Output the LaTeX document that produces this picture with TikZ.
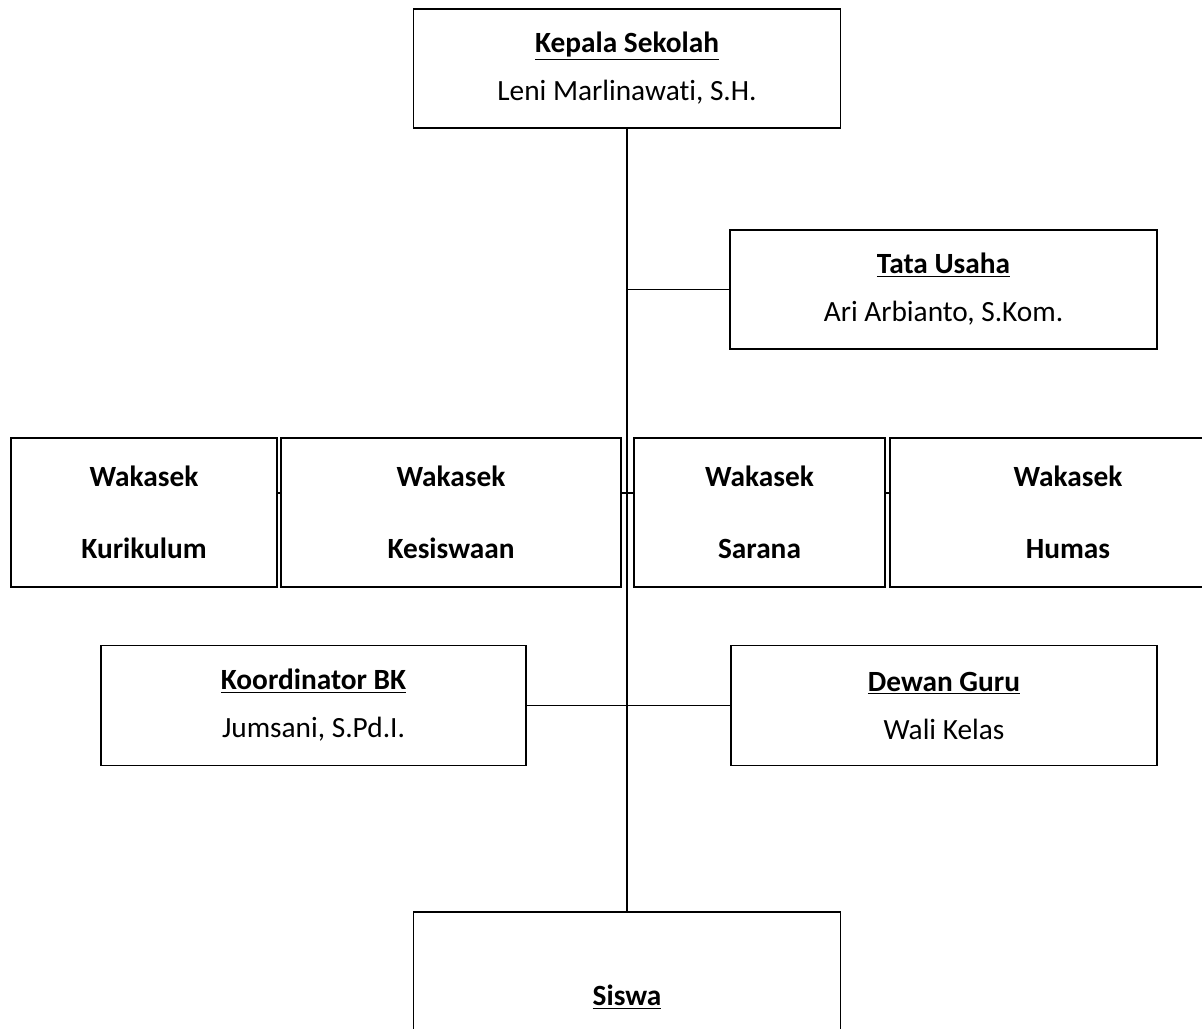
\documentclass[tikz,border=0pt]{standalone}
\usepackage{fontspec}
\setmainfont{Carlito}[Ligatures=NoCommon]
\newcommand{\ttl}[1]{\underline{\textbf{#1}}}
\begin{document}
\begin{tikzpicture}[x=0.75pt,y=-0.75pt,
  box/.style={draw=black, line width=1.4pt, rectangle, inner sep=0pt, align=center,
    font=\fontsize{22}{36}\selectfont},
  wbox/.style={box, font=\fontsize{22}{54}\selectfont\bfseries, minimum height=111.75pt},
  conn/.style={draw=black, line width=1.4pt}]
\useasboundingbox (0,0) rectangle (1202,1028);
\fill[white] (0,0) rectangle (1202,1028);
\clip (0,0) rectangle (1202,1028);

\node[box, minimum width=320.25pt, minimum height=89.25pt] (kepala) at (627,68.5)
  {\ttl{Kepala Sekolah}\\Leni Marlinawati, S.H.};
\node[box, minimum width=320.25pt, minimum height=89.25pt] (tata) at (943.5,289.5)
  {\ttl{Tata Usaha}\\Ari Arbianto, S.Kom.};

\node[wbox, minimum width=199.5pt] (kur) at (144,512.5) {Wakasek\\Kurikulum};
\node[wbox, minimum width=255pt] (kes) at (451,512.5) {Wakasek\\Kesiswaan};
\node[wbox, minimum width=188.25pt] (sar) at (759.5,512.5) {Wakasek\\Sarana};
\node[wbox, minimum width=267pt] (hum) at (1068,512.5) {Wakasek\\Humas};

\node[box, minimum width=318.75pt, minimum height=90pt] (bk) at (313.5,705.5)
  {\ttl{Koordinator BK}\\Jumsani, S.Pd.I.};
\node[box, minimum width=319.5pt, minimum height=90pt] (dewan) at (944,705.5)
  {\ttl{Dewan Guru}\\Wali Kelas};

\node[box, minimum width=320.25pt, minimum height=127.5pt] (siswa) at (627,997)
  {\ttl{Siswa}};

\draw[conn] (kepala.south) -- (siswa.north);
\draw[conn] (tata.west) -- (tata.west -| kepala.south);
\draw[conn] (bk.east) -- (dewan.west);
\draw[conn] ([yshift=14.6pt]kur.east) -- ([yshift=14.6pt]kes.west);
\draw[conn] ([yshift=14.6pt]kes.east) -- ([yshift=14.6pt]sar.west);
\draw[conn] ([yshift=14.6pt]sar.east) -- ([yshift=14.6pt]hum.west);
\end{tikzpicture}
\end{document}
